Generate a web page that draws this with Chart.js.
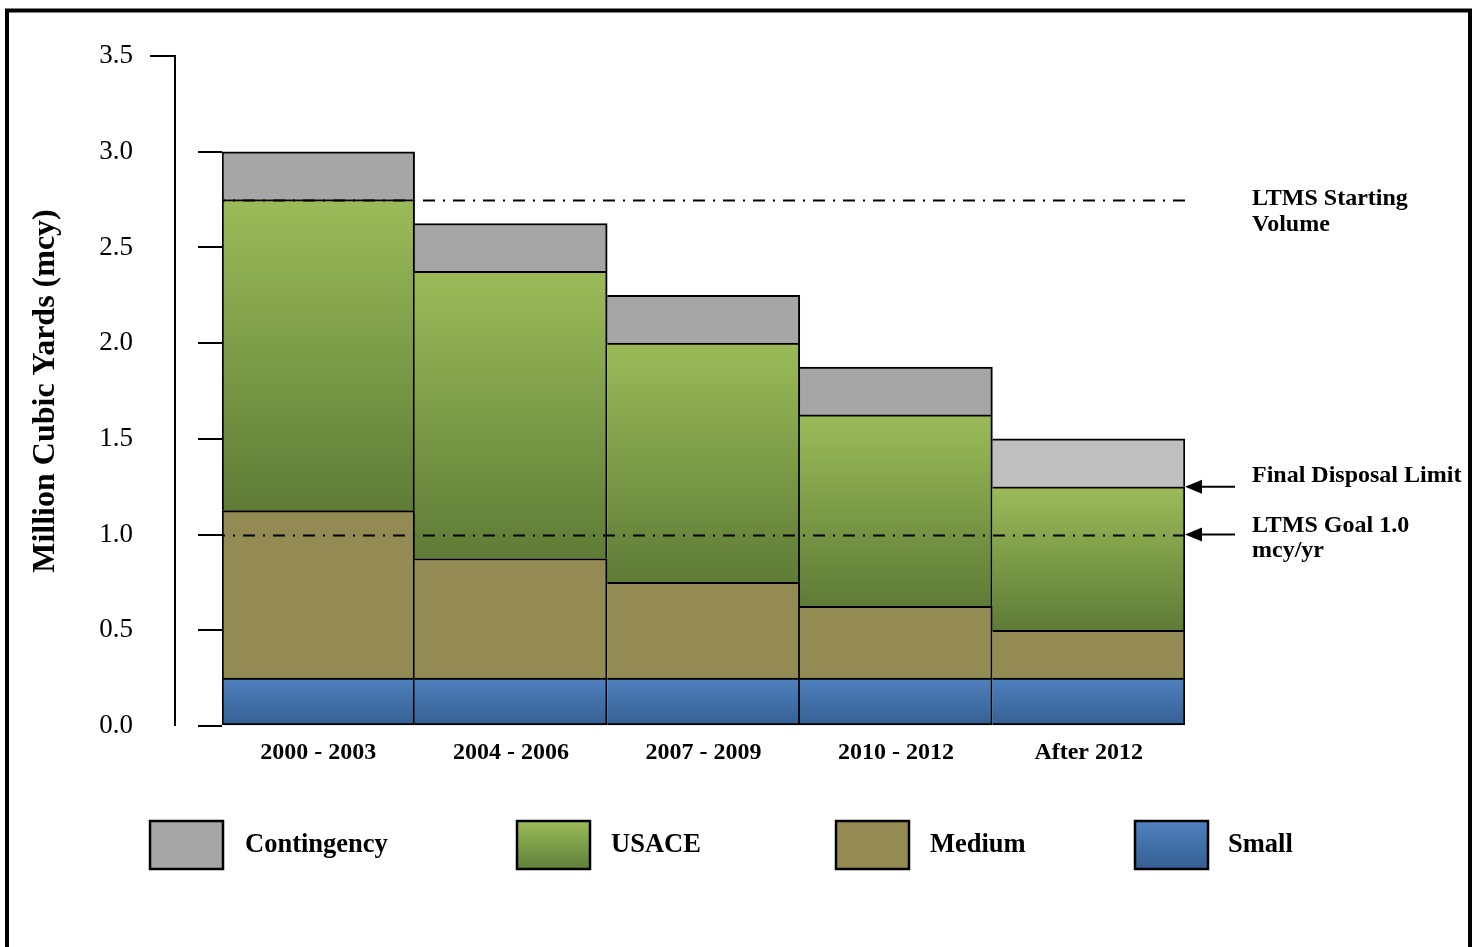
<!DOCTYPE html>
<html>
<head>
<meta charset="utf-8">
<script src="https://cdn.jsdelivr.net/npm/chart.js@4.4.1/dist/chart.umd.min.js"></script>
<style>
  html, body { margin: 0; padding: 0; background: #fff; overflow: hidden; }
  canvas { display: block; }
</style>
</head>
<body>
<canvas id="chartCanvas" width="1478" height="947"></canvas>
<script>
// data
const periods = ['2000 - 2003', '2004 - 2006', '2007 - 2009', '2010 - 2012', 'After 2012'];
const small = [0.25, 0.25, 0.25, 0.25, 0.25];
const medium = [0.875, 0.625, 0.5, 0.375, 0.25];
const usace = [1.625, 1.5, 1.25, 1.0, 0.75];
const contingency = [0.25, 0.25, 0.25, 0.25, 0.25];
const yTicks = [0, 0.5, 1.0, 1.5, 2.0, 2.5, 3.0, 3.5];
const refLines = [2.75, 1.0];       // LTMS starting volume, LTMS goal
const finalLimit = 1.25;

const SERIF = '"Liberation Serif", "Times New Roman", serif';

// vertical gradient for one stacked segment, from its own top to its bottom
function segmentGradient(ctx, below, values, topColor, bottomColor) {
    const chart = ctx.chart;
    if (!chart.chartArea || ctx.dataIndex === undefined) return topColor;
    const y = chart.scales.y;
    const i = ctx.dataIndex;
    const base = below.reduce((s, arr) => s + arr[i], 0);
    const yTop = y.getPixelForValue(base + values[i]);
    const yBot = y.getPixelForValue(base);
    const g = chart.ctx.createLinearGradient(0, yTop, 0, yBot);
    g.addColorStop(0, topColor);
    g.addColorStop(1, bottomColor);
    return g;
}

// borders drawn once per edge: top/right on every segment, left on first bar, bottom on lowest segment
function borderFor(isLowest) {
    return function(ctx) {
        return {
            top: 2,
            right: 2,
            left: ctx.dataIndex === 0 ? 2 : 0,
            bottom: isLowest ? 2 : 0
        };
    };
}

const legendItems = [
    { label: 'Contingency', top: '#a6a6a6', bottom: '#a6a6a6', box: 150, text: 245 },
    { label: 'USACE', top: '#9bbb59', bottom: '#60803a', box: 517, text: 611 },
    { label: 'Medium', top: '#948a54', bottom: '#948a54', box: 836, text: 930 },
    { label: 'Small', top: '#4f81bd', bottom: '#355f93', box: 1135, text: 1228 }
];

const decorations = {
    id: 'decorations',
    beforeDraw(chart) {
        const c = chart.ctx;
        c.save();
        c.fillStyle = '#fff';
        c.fillRect(0, 0, chart.width, chart.height);
        // outer frame
        c.strokeStyle = '#000';
        c.lineWidth = 4;
        c.strokeRect(7, 10.5, 1463, chart.height + 20);
        c.restore();
    },
    afterDatasetsDraw(chart) {
        const c = chart.ctx;
        const y = chart.scales.y;
        const area = chart.chartArea;
        c.save();
        // dash-dot reference lines
        c.strokeStyle = '#000';
        c.lineWidth = 2;
        c.setLineDash([12, 8, 2, 8]);
        c.lineDashOffset = 9;
        refLines.forEach(v => {
            const py = Math.round(y.getPixelForValue(v)) + 0.5;
            c.beginPath();
            c.moveTo(area.left, py);
            c.lineTo(area.right, py);
            c.stroke();
        });
        c.setLineDash([]);
        c.lineDashOffset = 0;

        // detached axis line with top tick
        const axisX = 175;
        const yMax = y.getPixelForValue(yTicks[yTicks.length - 1]);
        const yMin = y.getPixelForValue(0);
        c.beginPath();
        c.moveTo(150, yMax);
        c.lineTo(axisX, yMax);
        c.lineTo(axisX, yMin);
        c.stroke();

        // arrows and notes at the right
        const arrow = (v) => {
            const py = y.getPixelForValue(v);
            c.beginPath();
            c.moveTo(area.right + 50, py);
            c.lineTo(area.right + 14, py);
            c.stroke();
            c.beginPath();
            c.moveTo(area.right, py);
            c.lineTo(area.right + 17, py - 7);
            c.lineTo(area.right + 17, py + 7);
            c.closePath();
            c.fill();
        };
        c.fillStyle = '#000';
        arrow(finalLimit);
        arrow(refLines[1]);

        c.font = 'bold 24px ' + SERIF;
        c.textAlign = 'left';
        c.textBaseline = 'middle';
        const tx = area.right + 67;
        const yStart = y.getPixelForValue(refLines[0]);
        c.fillText('LTMS Starting', tx, yStart - 1);
        c.fillText('Volume', tx, yStart + 25);
        c.fillText('Final Disposal Limit', tx, y.getPixelForValue(finalLimit) - 11);
        const yGoal = y.getPixelForValue(refLines[1]);
        c.fillText('LTMS Goal 1.0', tx, yGoal - 9);
        c.fillText('mcy/yr', tx, yGoal + 16);

        // legend
        c.font = 'bold 26.5px ' + SERIF;
        legendItems.forEach(item => {
            const top = 821, h = 48, w = 73;
            const g = c.createLinearGradient(0, top, 0, top + h);
            g.addColorStop(0, item.top);
            g.addColorStop(1, item.bottom);
            c.fillStyle = g;
            c.fillRect(item.box, top, w, h);
            c.lineWidth = 2.5;
            c.strokeStyle = '#000';
            c.strokeRect(item.box, top, w, h);
            c.fillStyle = '#000';
            c.fillText(item.label, item.text, top + h / 2);
        });
        c.restore();
    }
};

new Chart(document.getElementById('chartCanvas'), {
    type: 'bar',
    data: {
        labels: periods,
        datasets: [
            {
                label: 'Small',
                data: small,
                backgroundColor: ctx => segmentGradient(ctx, [], small, '#4f81bd', '#355f93'),
                borderColor: '#000',
                borderWidth: borderFor(true),
                borderSkipped: false
            },
            {
                label: 'Medium',
                data: medium,
                backgroundColor: '#948a54',
                borderColor: '#000',
                borderWidth: borderFor(false),
                borderSkipped: false
            },
            {
                label: 'USACE',
                data: usace,
                backgroundColor: ctx => segmentGradient(ctx, [small, medium], usace, '#9bbb59', '#5e7c36'),
                borderColor: '#000',
                borderWidth: borderFor(false),
                borderSkipped: false
            },
            {
                label: 'Contingency',
                data: contingency,
                backgroundColor: ctx => ctx.dataIndex === periods.length - 1 ? '#bfbfbf' : '#a6a6a6',
                borderColor: '#000',
                borderWidth: borderFor(false),
                borderSkipped: false
            }
        ]
    },
    options: {
        responsive: false,
        animation: false,
        devicePixelRatio: 1,
        categoryPercentage: 1,
        barPercentage: 1,
        layout: {
            padding: { top: 56, right: 293, bottom: 161, left: 0 }
        },
        plugins: {
            legend: { display: false },
            tooltip: { enabled: false }
        },
        scales: {
            x: {
                stacked: true,
                grid: { display: false, drawTicks: false },
                border: { display: false },
                ticks: {
                    color: '#000',
                    padding: 12,
                    font: { family: SERIF, size: 24, weight: 'bold' }
                },
                afterFit(scale) { scale.height = 60; }
            },
            y: {
                stacked: true,
                min: 0,
                max: 3.5,
                afterBuildTicks(scale) {
                    scale.ticks = yTicks.map(v => ({ value: v }));
                },
                grid: {
                    drawOnChartArea: false,
                    drawTicks: true,
                    tickLength: 24,
                    lineWidth: 2,
                    color: ctx => (ctx.tick && ctx.tick.value === 3.5) ? 'rgba(0,0,0,0)' : '#000'
                },
                border: { display: false },
                ticks: {
                    color: '#000',
                    padding: 65,
                    font: { family: SERIF, size: 27 },
                    callback: v => Number(v).toFixed(1)
                },
                title: {
                    display: true,
                    text: 'Million Cubic Yards (mcy)',
                    color: '#000',
                    font: { family: SERIF, size: 32, weight: 'bold' },
                    padding: { top: 27, bottom: 0 }
                },
                afterFit(scale) {
                    scale.width = 222;
                    // tick padding should not push the plot area down
                    scale.paddingTop = 0;
                    scale.paddingBottom = 0;
                }
            }
        }
    },
    plugins: [decorations]
});
</script>
</body>
</html>
